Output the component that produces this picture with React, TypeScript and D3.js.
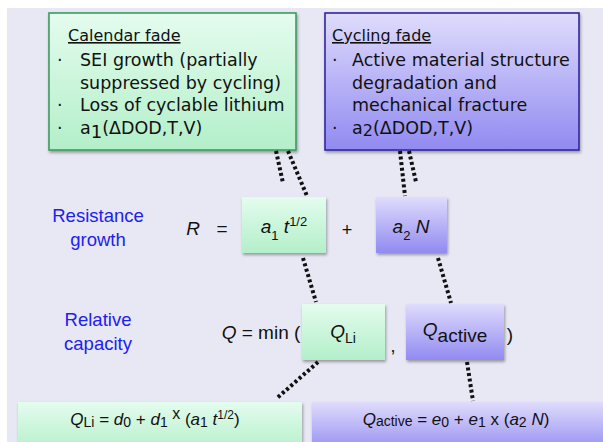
import * as d3 from "d3";

// ---- content ----
const calendarTitle = "Calendar fade";
const calendarItems = ["SEI growth (partially", "suppressed by cycling)", "Loss of cyclable lithium"];
const calendarBullets = [true, false, true];
const cyclingTitle = "Cycling fade";
const cyclingItems = ["Active material structure", "degradation and", "mechanical fracture"];
const cyclingBullets = [true, false, false];
const sideLabels = [
  ["Resistance", "growth"],
  ["Relative", "capacity"],
];

type Seg = { t: string; it?: boolean; dy?: number; fs?: number };

const a1Func: Seg[] = [{ t: "a" }, { t: "1", dy: 4, fs: 18 }, { t: "(ΔDOD,T,V)" }];
const a2Func: Seg[] = [{ t: "a" }, { t: "2", dy: 2, fs: 16 }, { t: "(ΔDOD,T,V)" }];
const rTerm1: Seg[] = [{ t: "a", it: true }, { t: "1", dy: 7, fs: 13 }, { t: " " }, { t: "t", it: true }, { t: "1/2", dy: -7, fs: 13 }];
const rTerm2: Seg[] = [{ t: "a", it: true }, { t: "2", dy: 7, fs: 13 }, { t: " " }, { t: "N", it: true }];
const qLi: Seg[] = [{ t: "Q", it: true }, { t: "Li", dy: 5, fs: 14 }];
const qActive: Seg[] = [{ t: "Q", it: true }, { t: "active", dy: 6 }];
const qLiEq: Seg[] = [
  { t: "Q", it: true }, { t: "Li", dy: 2, fs: 14 }, { t: " = " }, { t: "d", it: true }, { t: "0", dy: 2, fs: 14 },
  { t: " + " }, { t: "d", it: true }, { t: "1", dy: 2, fs: 14 }, { t: " x", dy: -6, fs: 16 }, { t: " (" },
  { t: "a", it: true }, { t: "1", dy: 2, fs: 14 }, { t: " " }, { t: "t", it: true }, { t: "1/2", dy: -6, fs: 12 }, { t: ")" },
];
const qActEq: Seg[] = [
  { t: "Q", it: true }, { t: "active", dy: 1, fs: 14 }, { t: " = " }, { t: "e", it: true }, { t: "0", dy: 2, fs: 14 },
  { t: " + " }, { t: "e", it: true }, { t: "1", dy: 2, fs: 14 }, { t: " x (" }, { t: "a", it: true },
  { t: "2", dy: 2, fs: 14 }, { t: " " }, { t: "N", it: true }, { t: ")" },
];

// ---- layout ----
const W = 603;
const H = 442;
const BODY_FONT = "DejaVu Sans, sans-serif";
const EQ_FONT = "Liberation Sans, Arial, sans-serif";

const boxes = [
  { id: "cal", x: 49, y: 13, w: 247, h: 137, c: "g", border: true },
  { id: "cyc", x: 325, y: 13, w: 254, h: 137, c: "p", border: true },
  { id: "a1t", x: 242, y: 197, w: 84, h: 56, c: "g" },
  { id: "a2n", x: 376, y: 197, w: 71, h: 56, c: "p" },
  { id: "qli", x: 302, y: 304, w: 83, h: 56, c: "g" },
  { id: "qact", x: 406, y: 304, w: 98, h: 56, c: "p" },
  { id: "qliEq", x: 18, y: 402, w: 284, h: 52, c: "g" },
  { id: "qactEq", x: 312, y: 402, w: 300, h: 52, c: "p" },
];

const links: [number, number][][] = [
  [[276, 151], [283, 183]],
  [[288, 151], [307, 196]],
  [[400, 151], [405, 196]],
  [[409, 151], [416, 182]],
  [[303, 258], [316, 302]],
  [[438, 258], [451, 303]],
  [[318, 362], [276, 399]],
  [[467, 362], [473, 401]],
];

function Rich({ x, y, segs, size, anchor = "start", family = EQ_FONT }: { x: number; y: number; segs: Seg[]; size: number; anchor?: string; family?: string }) {
  let cur = 0;
  return (
    <text x={x} y={y} fontSize={size} textAnchor={anchor} fontFamily={family} fill="#111" style={{ whiteSpace: "pre" }}>
      {segs.map((s, i) => {
        const off = s.dy ?? 0;
        const dy = off - cur;
        cur = off;
        return (
          <tspan key={i} dy={dy} fontStyle={s.it ? "italic" : "normal"} fontSize={s.fs ?? size}>
            {s.t}
          </tspan>
        );
      })}
    </text>
  );
}

function FadeBox({ title, items, bullets, func, bulletX, textX, titleX }: { title: string; items: string[]; bullets: boolean[]; func: Seg[]; bulletX: number; textX: number; titleX: number }) {
  const base = [41, 66, 89, 111, 134];
  const fs = 17.5;
  return (
    <g fontFamily={BODY_FONT} fill="#111">
      <text x={titleX} y={base[0]} fontSize={16} textDecoration="underline">{title}</text>
      {items.map((t, i) => (
        <g key={i}>
          {bullets[i] && <text x={bulletX} y={base[i + 1]} fontSize={fs}>·</text>}
          <text x={textX} y={base[i + 1]} fontSize={fs}>{t}</text>
        </g>
      ))}
      <text x={bulletX} y={base[4]} fontSize={fs}>·</text>
      <Rich x={textX} y={base[4]} segs={func} size={fs} family={BODY_FONT} />
    </g>
  );
}

export default function App() {
  const line = d3.line();
  return (
    <div style={{ position: "absolute", left: 0, top: 0 }}>
      <svg width={W} height={H} style={{ display: "block", background: "#fff" }}>
        <defs>
          <linearGradient id="gg" x1="0" y1="0" x2="0" y2="1">
            <stop offset="0" stopColor="#e4fcee" />
            <stop offset="1" stopColor="#b3efc9" />
          </linearGradient>
          <linearGradient id="pg" x1="0" y1="0" x2="0" y2="1">
            <stop offset="0" stopColor="#dfdcfc" />
            <stop offset="1" stopColor="#918af1" />
          </linearGradient>
          <filter id="sh" x="-10%" y="-10%" width="130%" height="140%">
            <feDropShadow dx="1" dy="2" stdDeviation="1.5" floodColor="#000" floodOpacity="0.35" />
          </filter>
        </defs>
        <rect x={7} y={8} width={W - 7} height={H - 8} fill="#e7e8f3" />

        {boxes.map((b) => (
          <rect
            key={b.id}
            x={b.x}
            y={b.y}
            width={b.w}
            height={b.h}
            fill={b.c === "g" ? "url(#gg)" : "url(#pg)"}
            stroke={b.border ? (b.c === "g" ? "#3f9a60" : "#3226a2") : "none"}
            strokeWidth={b.border ? 1.6 : 0}
            filter="url(#sh)"
          />
        ))}

        {links.map((l, i) => (
          <path key={i} d={line(l) ?? ""} stroke="#111" strokeWidth={4} strokeDasharray="3 2.6" fill="none" />
        ))}

        <FadeBox title={calendarTitle} items={calendarItems} bullets={calendarBullets} func={a1Func} bulletX={57} textX={80} titleX={68} />
        <FadeBox title={cyclingTitle} items={cyclingItems} bullets={cyclingBullets} func={a2Func} bulletX={332} textX={352} titleX={332} />

        {sideLabels.map((lab, i) => (
          <text key={i} x={98} y={i === 0 ? 222 : 326} fontSize={18.5} fontFamily={EQ_FONT} fill="#2020f0" textAnchor="middle">
            <tspan x={98}>{lab[0]}</tspan>
            <tspan x={98} dy={24}>{lab[1]}</tspan>
          </text>
        ))}

        <Rich x={193} y={235} segs={[{ t: "R", it: true }]} size={19} anchor="middle" />
        <Rich x={222} y={235} segs={[{ t: "=" }]} size={19} anchor="middle" />
        <Rich x={284} y={233} segs={rTerm1} size={19} anchor="middle" />
        <Rich x={347} y={236} segs={[{ t: "+" }]} size={18} anchor="middle" />
        <Rich x={411} y={233} segs={rTerm2} size={19} anchor="middle" />

        <Rich x={261} y={339} segs={[{ t: "Q", it: true }, { t: " = min (" }]} size={19} anchor="middle" />
        <Rich x={343} y={338} segs={qLi} size={19} anchor="middle" />
        <Rich x={393} y={352} segs={[{ t: "," }]} size={18} anchor="middle" />
        <Rich x={455} y={336} segs={qActive} size={19} anchor="middle" />
        <Rich x={510} y={341} segs={[{ t: ")" }]} size={19} anchor="middle" />

        <Rich x={155} y={425} segs={qLiEq} size={17} anchor="middle" />
        <Rich x={456} y={425} segs={qActEq} size={17} anchor="middle" />
      </svg>
    </div>
  );
}
